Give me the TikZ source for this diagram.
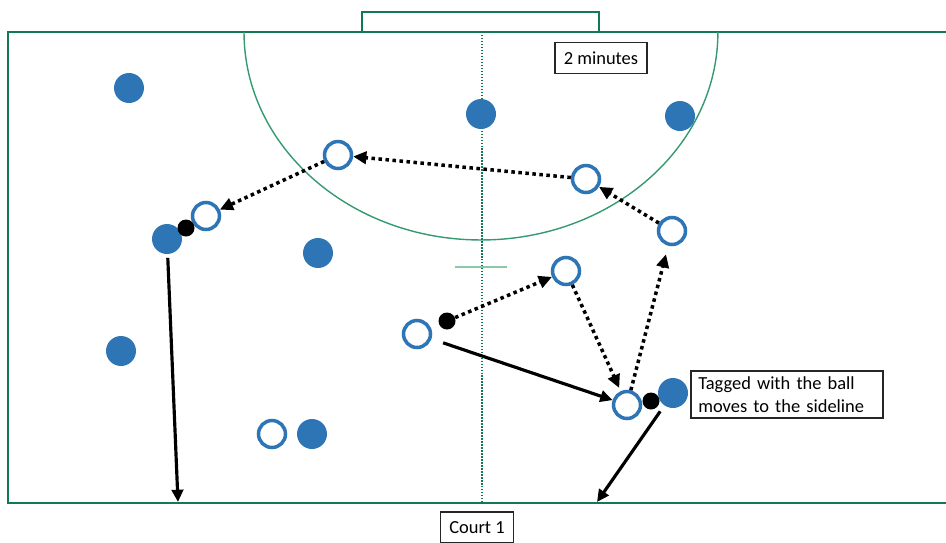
\documentclass[tikz,border=0pt]{standalone}
\usepackage{fontspec}
\setmainfont{Carlito}
\usetikzlibrary{arrows.meta}
\definecolor{courtgreen}{RGB}{16,122,84}
\definecolor{arcgreen}{RGB}{52,154,112}
\definecolor{tickgreen}{RGB}{140,200,168}
\definecolor{playerblue}{RGB}{46,117,182}
\tikzstyle{defender} = [circle, fill=playerblue, inner sep=0pt, minimum size=0.6cm]
\tikzstyle{attacker} = [circle, draw=playerblue, line width=2pt, fill=white, inner sep=0pt, minimum size=0.54cm]
\tikzstyle{ball} = [circle, fill=black, inner sep=0pt, minimum size=0.34cm]
\tikzstyle{pass} = [line width=2pt, dash pattern=on 2pt off 2pt, -{Triangle[length=7.5pt,width=7pt]}]
\tikzstyle{run} = [line width=1.8pt, -{Triangle[length=7pt,width=6.5pt]}]
\tikzstyle{note} = [draw=black!85, line width=0.9pt, inner xsep=5pt, minimum height=17.5pt, font=\fontsize{10.5}{13}\selectfont]

\begin{document}
\begin{tikzpicture}[x=0.02cm, y=-0.02cm]
      \useasboundingbox (0,0) rectangle (946,542);
      % court
      \draw[courtgreen, line width=1.3pt] (946,32) -- (8,32) -- (8,503) -- (946,503);
      \draw[courtgreen, line width=0.8pt] (362,32) -- (362,12) -- (599,12) -- (599,32);
      \draw[arcgreen, line width=0.8pt] (244,32) arc[start angle=180, end angle=360, x radius=4.74cm, y radius=4.16cm];
      \draw[courtgreen, line width=1.1pt, dash pattern=on 0.85pt off 0.85pt] (482,32) -- (482,503);
      \draw[tickgreen, line width=0.7pt] (455,267) -- (507,267);
      % defenders
      \node (d1) at (129,88) [defender] {};
      \node (d2) at (481,114) [defender] {};
      \node (d3) at (680,116) [defender] {};
      \node (d4) at (167,239) [defender] {};
      \node (d5) at (318,253) [defender] {};
      \node (d6) at (121,351) [defender] {};
      \node (d7) at (312,434) [defender] {};
      \node (d8) at (673,393) [defender] {};
      % attackers
      \node (a1) at (338,155) [attacker] {};
      \node (a2) at (586,179) [attacker] {};
      \node (a3) at (206,216) [attacker] {};
      \node (a4) at (672,231) [attacker] {};
      \node (a5) at (566,271) [attacker] {};
      \node (a6) at (417,334) [attacker] {};
      \node (a7) at (272,434) [attacker] {};
      \node (a8) at (627,405) [attacker] {};
      % balls
      \node (b1) at (186,228) [ball] {};
      \node (b2) at (447,321) [ball] {};
      \node (b3) at (651,401) [ball] {};
      \coordinate (e1) at (178,502);
      \coordinate (e2) at (597,502);
      % passes
      \draw[pass] (a2)--(a1);
      \draw[pass] (a1)--(a3);
      \draw[pass] (a4)--(a2);
      \draw[pass] (b2)--(a5);
      \draw[pass, shorten >=2pt] (a5)--(a8);
      \draw[pass, shorten >=5pt] (a8)--(a4);
      % runs
      \draw[run, shorten <=2pt] (d4)--(e1);
      \draw[run, shorten <=7pt] (a6)--(a8);
      \draw[run, shorten <=4pt] (d8)--(e2);
      % notes
      \node (t1) at (601,58) [note] {2 minutes};
      \node (t2) at (787,394.5) [note, text width=101pt, inner xsep=4pt, align=left] {Tagged with the ball\\moves to the sideline};
      \node (t3) at (477,527.5) [note] {Court 1};
\end{tikzpicture}
\end{document}
